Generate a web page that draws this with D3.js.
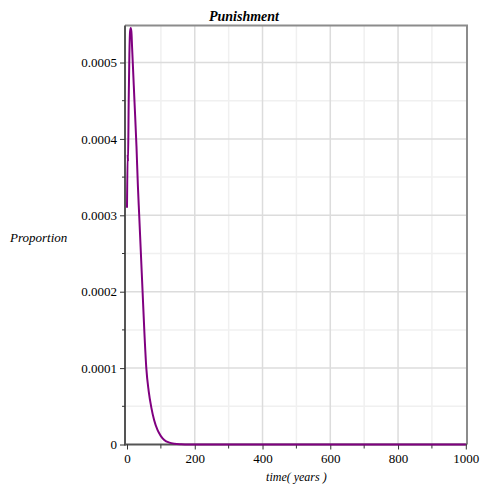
<html>
<head>
<script src="https://d3js.org/d3.v7.min.js"></script>
<style>
    body { margin: 0; background: #fff; }
</style>
</head>
<body>
<svg id="chart"></svg>
<script>
    // values
    var times = [0, 2, 3, 5, 7, 9, 11, 13, 15, 18, 22, 28, 32, 36, 41, 46, 51, 57, 64, 72, 80, 90, 100, 110, 125, 140, 160, 180, 200, 400, 600, 800, 1000];
    var proportion = [0.00031, 0.00038, 0.00037, 0.00045, 0.00051, 0.00054, 0.000545, 0.00054, 0.00052, 0.00049, 0.00045, 0.00039, 0.00034, 0.00030, 0.00025, 0.00020, 0.00015, 0.00010, 0.000070, 0.000048, 0.000032, 0.000019, 0.000011, 0.000006, 0.0000025, 0.000001, 0.0000003, 0, 0, 0, 0, 0, 0];
    var xTicks = [0, 200, 400, 600, 800, 1000];
    var yTicks = [0, 0.0001, 0.0002, 0.0003, 0.0004, 0.0005];

    var serif = "'Liberation Serif', 'Times New Roman', 'DejaVu Serif', serif";
    var width = 480, height = 486;
    var margin = { top: 25, right: 14, bottom: 42, left: 127 };

    var svg = d3.select("#chart")
        .attr("width", width)
        .attr("height", height)
        .attr("font-family", serif);

    var x = d3.scaleLinear()
        .domain([0, 1000])
        .range([margin.left, 465.8]);

    var y = d3.scaleLinear()
        .domain([0, 0.0005])
        .range([444.5, 62.5]);

    var yTop = y.invert(margin.top + 0.5);
    var xLeft = x.invert(125), xRight = x.invert(467);

    // minor grid
    var g = svg.append("g");
    g.selectAll(".vminor")
        .data(d3.range(100, 1000, 200))
        .enter().append("line")
        .attr("x1", d => x(d)).attr("x2", d => x(d))
        .attr("y1", y(yTop)).attr("y2", y(0))
        .attr("stroke", "#f0f0f0").attr("stroke-width", 1.5);
    g.selectAll(".hminor")
        .data(d3.range(0.00005, 0.00055, 0.0001))
        .enter().append("line")
        .attr("x1", x(xLeft)).attr("x2", x(xRight))
        .attr("y1", d => y(d)).attr("y2", d => y(d))
        .attr("stroke", "#f0f0f0").attr("stroke-width", 1.5);
    // major grid
    g.selectAll(".vmajor")
        .data(xTicks.slice(1, -1))
        .enter().append("line")
        .attr("x1", d => x(d)).attr("x2", d => x(d))
        .attr("y1", y(yTop)).attr("y2", y(0))
        .attr("stroke", "#dcdcdc").attr("stroke-width", 1.5);
    g.selectAll(".hmajor")
        .data(yTicks.slice(1))
        .enter().append("line")
        .attr("x1", x(xLeft)).attr("x2", x(xRight))
        .attr("y1", d => y(d)).attr("y2", d => y(d))
        .attr("stroke", "#dcdcdc").attr("stroke-width", 1.5);

    // frame (top and right)
    svg.append("path")
        .attr("d", "M" + x(xLeft) + "," + y(yTop) + "H" + x(xRight) + "V" + y(0))
        .attr("fill", "none")
        .attr("stroke", "#8c8c8c")
        .attr("stroke-width", 2);

    // y axis
    var yAxis = svg.append("g")
        .attr("transform", "translate(" + x(xLeft) + ",0)")
        .call(d3.axisLeft(y).tickValues(yTicks).tickSize(5).tickPadding(3)
            .tickFormat(d => d === 0 ? "0" : d3.format(".4f")(d)));
    yAxis.attr("font-family", serif).attr("font-size", 13);
    yAxis.selectAll(".tick text").attr("fill", "#000");
    yAxis.select(".domain").attr("d", "M0," + y(yTop) + "V" + (y(0) + 1)).attr("stroke", "#555").attr("stroke-width", 2);
    yAxis.selectAll(".tick line").attr("stroke", "#333");
    svg.append("g")
        .attr("transform", "translate(" + x(xLeft) + ",0)")
        .selectAll("line")
        .data(d3.range(0.00005, 0.00055, 0.0001))
        .enter().append("line")
        .attr("x1", -3).attr("x2", 0)
        .attr("y1", d => y(d)).attr("y2", d => y(d))
        .attr("stroke", "#333");

    // x axis
    var xAxis = svg.append("g")
        .attr("transform", "translate(0," + y(0) + ")")
        .call(d3.axisBottom(x).tickValues(xTicks).tickSize(5).tickPadding(4).tickFormat(d3.format("d")));
    xAxis.attr("font-family", serif).attr("font-size", 13);
    xAxis.selectAll(".tick text").attr("fill", "#000");
    xAxis.select(".domain").attr("d", "M" + x(xLeft) + ",0H" + x(xRight)).attr("stroke", "#555").attr("stroke-width", 2);
    xAxis.selectAll(".tick line").attr("stroke", "#333");
    svg.append("g")
        .attr("transform", "translate(0," + y(0) + ")")
        .selectAll("line")
        .data(d3.range(100, 1000, 200))
        .enter().append("line")
        .attr("x1", d => x(d)).attr("x2", d => x(d))
        .attr("y1", 0).attr("y2", 4)
        .attr("stroke", "#333");

    // curve
    var points = times.map((t, i) => [t, proportion[i]]);
    svg.append("path")
        .datum(points)
        .attr("fill", "none")
        .attr("stroke", "#800080")
        .attr("stroke-width", 2)
        .attr("d", d3.line()
            .x(d => x(d[0]))
            .y(d => y(d[1]))
            .curve(d3.curveMonotoneX));

    // labels
    svg.append("text")
        .attr("x", 244).attr("y", 21)
        .attr("text-anchor", "middle")
        .attr("font-size", 14)
        .attr("font-weight", "bold")
        .attr("font-style", "italic")
        .text("Punishment");

    svg.append("text")
        .attr("x", 10).attr("y", 242)
        .attr("font-size", 13)
        .attr("font-style", "italic")
        .text("Proportion");

    svg.append("text")
        .attr("x", (x(0) + x(1000)) / 2).attr("y", 481)
        .attr("text-anchor", "middle")
        .attr("font-size", 12)
        .attr("font-style", "italic")
        .text("time( years )");
</script>
</body>
</html>
